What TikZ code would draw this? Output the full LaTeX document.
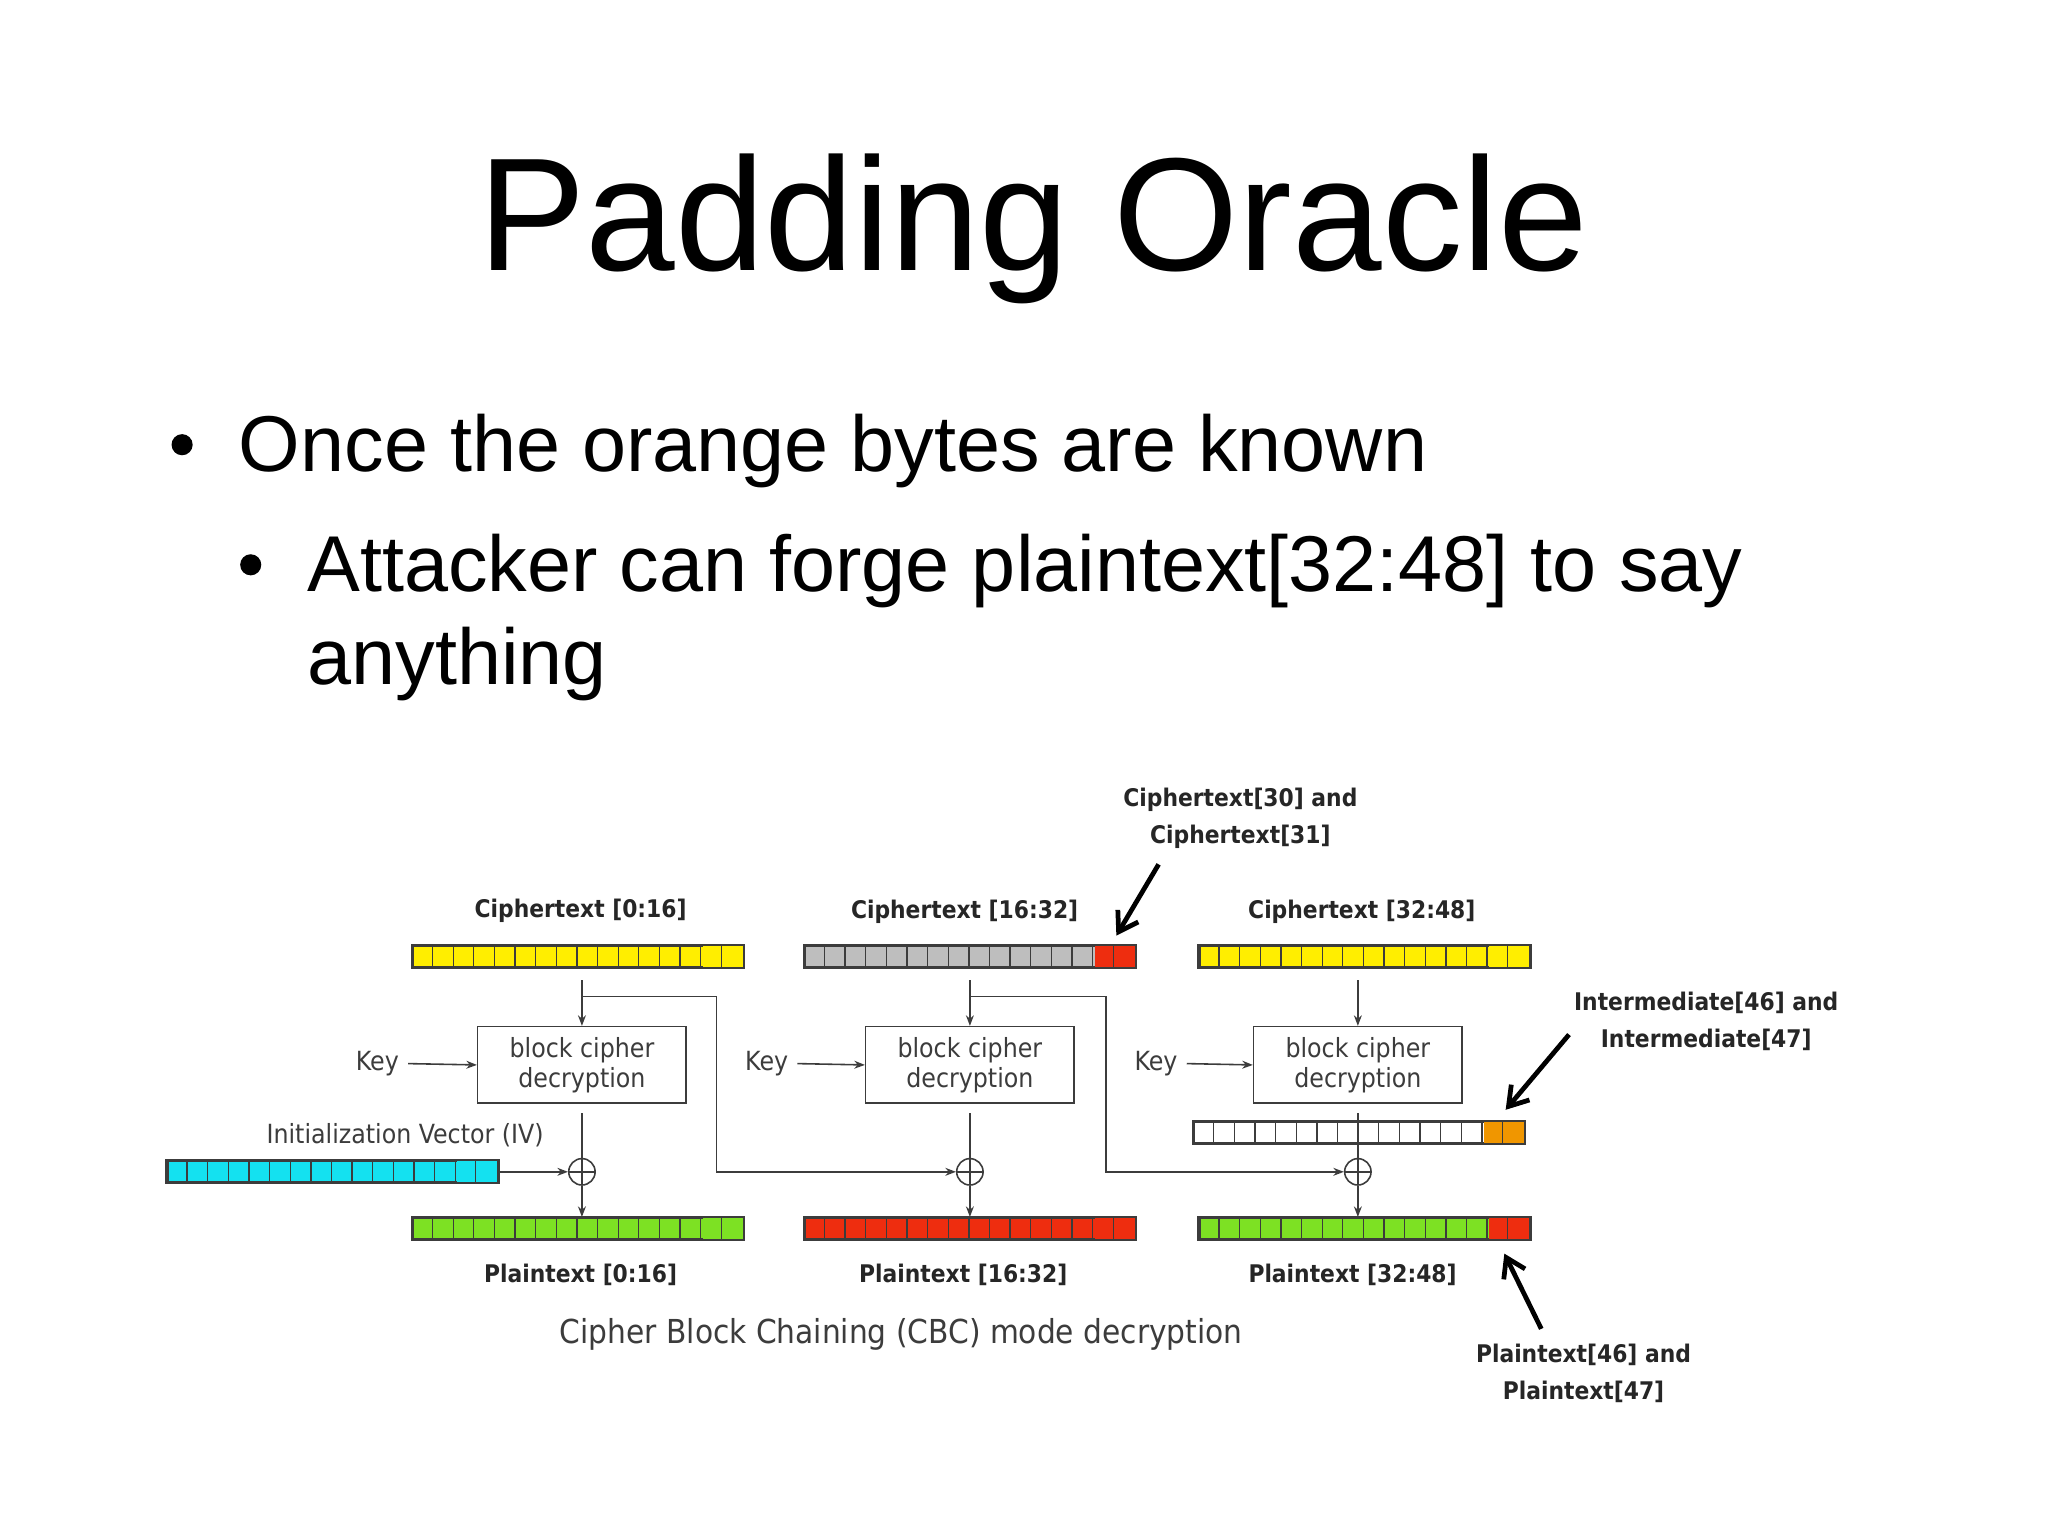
\documentclass[tikz,border=0pt]{standalone}
\usepackage{fontspec}
\setmainfont{Liberation Sans}
\newfontfamily\djfont{DejaVu Sans Condensed}
\usetikzlibrary{arrows.meta,calc}
\definecolor{cy}{RGB}{255,238,0}
\definecolor{cg}{RGB}{190,190,190}
\definecolor{cr}{RGB}{238,45,15}
\definecolor{cgr}{RGB}{125,225,35}
\definecolor{ccy}{RGB}{20,225,240}
\definecolor{cor}{RGB}{240,150,0}
\definecolor{ln}{RGB}{60,60,60}
\tikzset{
  bar/.style={draw=ln, line width=0.8pt, minimum width=125pt, minimum height=8pt, inner sep=0pt},
  box/.style={draw=ln, line width=0.6pt, minimum width=79pt, minimum height=29pt, align=center, inner sep=0pt, font=\djfont\fontsize{10}{11.5}\selectfont, text=ln},
  lbl/.style={font=\djfont\bfseries\fontsize{9.2}{14}\selectfont, text=black!85, align=center},
  klbl/.style={font=\djfont\fontsize{10}{12}\selectfont, text=ln},
  flow/.style={draw=ln, line width=0.6pt},
  arr/.style={flow, -{Stealth[length=4pt,width=3pt]}},
  big/.style={line width=1.8pt, -{Straight Barb[length=7pt,width=9pt,line width=1.8pt]}},
  xor/.style={circle, draw=ln, line width=0.6pt, minimum size=10pt, inner sep=0pt,
    path picture={\draw[ln,line width=0.6pt] (path picture bounding box.north) -- (path picture bounding box.south) (path picture bounding box.west) -- (path picture bounding box.east);}},
  slide/.style={anchor=base west, font=\fontsize{30}{36}\selectfont}
}
\newcommand\cellrow[5]{%
  \node[bar, fill=#4] (#1) at (#2,#3) {};
  \fill[#5] ($(#1.north east)+(-31.25,0)$) rectangle (#1.south east);
  \draw[ln, line width=0.8pt] (#1.north west) rectangle (#1.south east);
  \foreach \i in {1,...,15} \draw[ln, line width=0.5pt] ($(#1.north west)+(\i*15.625,0)$) -- ($(#1.south west)+(\i*15.625,0)$);
}
\begin{document}
\begin{tikzpicture}[x=0.5pt,y=-0.5pt]
\useasboundingbox[fill=white] (0,0) rectangle (1552,1164);
% slide text
\node[anchor=base, font=\fontsize{61}{66}\selectfont] (title) at (783,205) {Padding Oracle};
\fill (138,337) circle (8);
\node[slide] (b1) at (174,357) {Once the orange bytes are known};
\fill (190,428) circle (8);
\node[slide, align=left, anchor=north west] (b2) at (226,398) {Attacker can forge plaintext[32:48] to say\\[-1pt]anything};
% ciphertext bars
\cellrow{c1}{438}{725}{cy}{cy}
\cellrow{c2}{735}{725}{cg}{cr}
\cellrow{c3}{1034}{725}{cy}{cy}
\node[lbl] (lc1) at (440,690) {Ciphertext [0:16]};
\node[lbl] (lc2) at (731,691) {Ciphertext [16:32]};
\node[lbl] (lc3) at (1032,691) {Ciphertext [32:48]};
% boxes
\node[box] (k1) at (441,807) {block cipher\\decryption};
\node[box] (k2) at (735,807) {block cipher\\decryption};
\node[box] (k3) at (1029,807) {block cipher\\decryption};
\node[klbl] (key1) at (286,806) {Key};
\node[klbl] (key2) at (581,806) {Key};
\node[klbl] (key3) at (876,806) {Key};
\draw[arr] (key1.east) -- (k1.west);
\draw[arr] (key2.east) -- (k2.west);
\draw[arr] (key3.east) -- (k3.west);
% xors
\node[xor] (x1) at (441,888) {};
\node[xor] (x2) at (735,888) {};
\node[xor] (x3) at (1029,888) {};
% plaintext bars
\cellrow{p1}{438}{931}{cgr}{cgr}
\cellrow{p2}{735}{931}{cr}{cr}
\cellrow{p3}{1034}{931}{cgr}{cr}
\node[lbl] (lp1) at (440,966) {Plaintext [0:16]};
\node[lbl] (lp2) at (730,966) {Plaintext [16:32]};
\node[lbl] (lp3) at (1025,966) {Plaintext [32:48]};
% vertical flows
\foreach \c/\k/\x/\p in {c1/k1/x1/p1,c2/k2/x2/p2,c3/k3/x3/p3}{
  \draw[arr] (\c.south -| \k) ++(0,9) -- (\k.north);
  \draw[flow] (\k.south) ++(0,7) -- (\x.north);
  \draw[arr] (\x.south) -- (\p.north -| \x);
}
% intermediate
\cellrow{im}{1030}{858}{white}{cor}
\draw[ln, line width=0.4pt, densely dotted] (im.north -| x3) -- (im.south -| x3);
% feedback
\coordinate (f1) at (441,755);
\coordinate (f2) at (735,755);
\draw[arr] (f1) -- (543,755) -- (543,888) -- (x2.west);
\draw[arr] (f2) -- (838,755) -- (838,888) -- (x3.west);
% IV
\cellrow{iv}{252}{888}{ccy}{ccy}
\node[klbl] (liv) at (307,860) {Initialization Vector (IV)};
\draw[arr] (iv.east) -- (x1.west);
% caption
\node[font=\djfont\fontsize{12.5}{14}\selectfont, text=ln] (cap) at (683,1011) {Cipher Block Chaining (CBC) mode decryption};
% annotations
\node[lbl] (a1) at (940,620) {Ciphertext[30] and\\Ciphertext[31]};
\node[lbl] (a2) at (1293,774) {Intermediate[46] and\\Intermediate[47]};
\node[lbl] (a3) at (1200,1041) {Plaintext[46] and\\Plaintext[47]};
\coordinate (t1) at (846,709);
\coordinate (t2) at (1141,841);
\coordinate (t3) at (1140,950);
\draw[big] (878,655) -- (t1);
\draw[big] (1189,784) -- (t2);
\draw[big] (1168,1007) -- (t3);
\end{tikzpicture}
\end{document}
